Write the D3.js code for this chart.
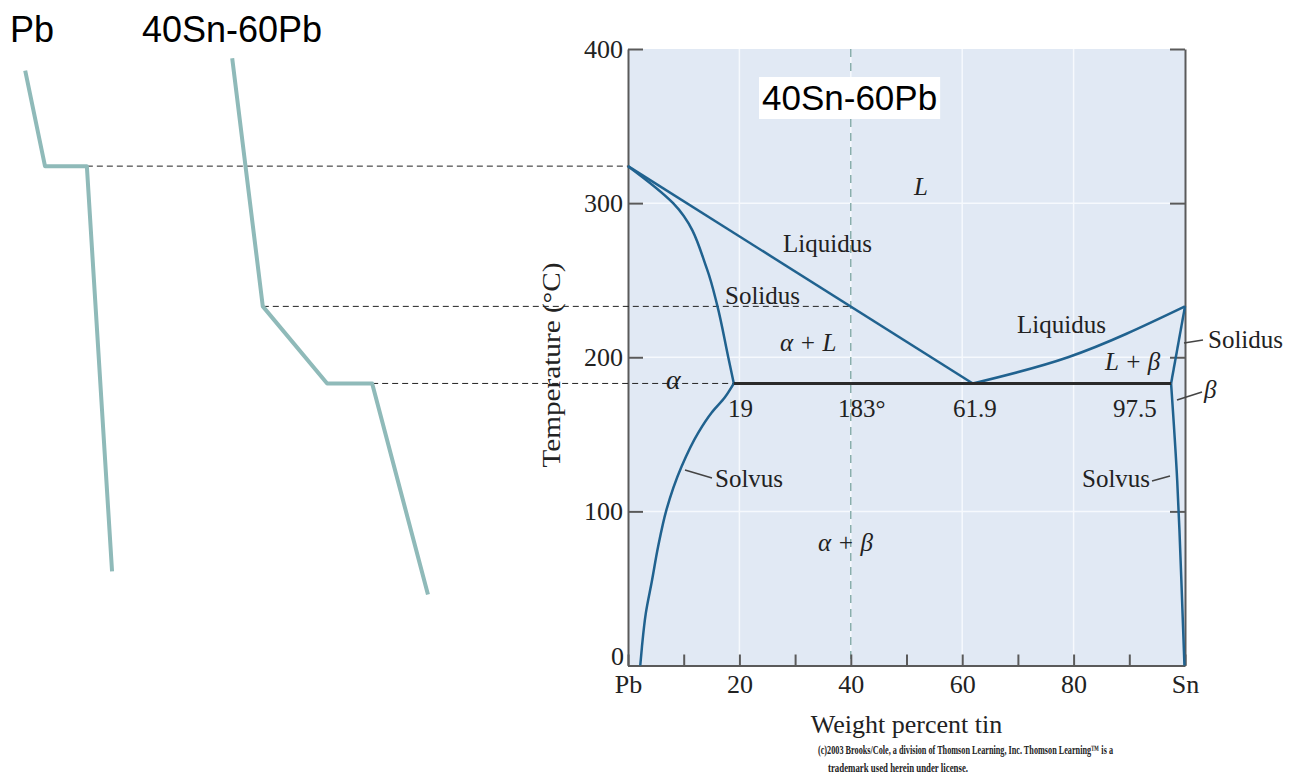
<!DOCTYPE html>
<html>
<head>
<meta charset="utf-8">
<script src="https://cdn.jsdelivr.net/npm/d3@7"></script>
<style>
  body { margin: 0; background: #fff; }
  svg { display: block; }
</style>
</head>
<body>
<svg id="chart" width="1301" height="775"></svg>
<script>
// ---- data ----
const tempTicks = [0, 100, 200, 300, 400];
const compTicks = [0, 10, 20, 30, 40, 50, 60, 70, 80, 90, 100];
const compLabels = { 0: "Pb", 20: "20", 40: "40", 60: "60", 80: "80", 100: "Sn" };
const gridComp = [20, 40, 60, 80];
const gridTemp = [100, 200, 300];

// phase boundaries [wt% Sn, temperature]
const liquidusLeft = [[0, 324], [61.9, 183]];
const liquidusRight = [[61.9, 183], [79, 200], [100, 233]];
const solidusLeft = [[0, 324], [8.1, 300], [14.2, 257], [16, 234], [18, 200], [19, 183]];
const solvusLeft = [[19, 183], [17.4, 174], [15, 164], [12.6, 151], [9.6, 129], [6.9, 101],
                    [5.4, 77], [4.3, 55], [3.2, 34], [2.5, 12], [2.2, 0]];
const solidusRight = [[97.5, 183], [100, 233]];
const solvusRight = [[97.5, 183], [98.6, 120], [99, 88], [99.5, 40], [99.9, 0]];
const eutectic = [[19, 183], [97.5, 183]];
const alloyComp = 40;

// cooling curves [time, temperature]
const coolingPb = [[5.6, 386], [10, 324], [19.3, 324], [24.9, 61]];
const coolingAlloy = [[51.6, 394], [58.4, 233], [72.7, 183], [82.7, 183], [95.1, 46]];

// guide lines: from time on cooling curve to composition on diagram
const guides = [
  { time: 19.3, comp: 0, temp: 324 },
  { time: 58.4, comp: 40, temp: 233 },
  { time: 82.7, comp: 19, temp: 183 }
];

const svg = d3.select("#chart");
const serif = "'Liberation Serif', 'Times New Roman', serif";
const sans = "'Liberation Sans', Arial, sans-serif";

const x = d3.scaleLinear().domain([0, 100]).range([628, 1185]);
const y = d3.scaleLinear().domain([0, 400]).range([665.5, 49]);
const t = d3.scaleLinear().domain([0, 100]).range([0, 450]);

const line = d3.line().x(d => x(d[0])).y(d => y(d[1]));
const curveY = d3.line().x(d => x(d[0])).y(d => y(d[1])).curve(d3.curveMonotoneY);
const curveX = d3.line().x(d => x(d[0])).y(d => y(d[1])).curve(d3.curveMonotoneX);
const coolLine = d3.line().x(d => t(d[0])).y(d => y(d[1]));

// plot background
svg.append("rect")
    .attr("x", x(0)).attr("y", y(400))
    .attr("width", x(100) - x(0)).attr("height", y(0) - y(400))
    .attr("fill", "#e1e9f4");

// gridlines
svg.selectAll(".vgrid").data(gridComp).join("line")
    .attr("x1", d => x(d)).attr("x2", d => x(d))
    .attr("y1", y(400)).attr("y2", y(0))
    .attr("stroke", "#f6f9fd").attr("stroke-width", 1.5);
svg.selectAll(".hgrid").data(gridTemp).join("line")
    .attr("x1", x(0)).attr("x2", x(100))
    .attr("y1", d => y(d)).attr("y2", d => y(d))
    .attr("stroke", "#f6f9fd").attr("stroke-width", 1.5);

// alloy composition line
svg.append("line")
    .attr("x1", x(alloyComp)).attr("x2", x(alloyComp))
    .attr("y1", y(400)).attr("y2", y(0))
    .attr("stroke", "#6f9c98").attr("stroke-width", 1.2)
    .attr("stroke-dasharray", "8,6");

// axes
const axisColor = "#5a5a5a";
const yLeft = svg.append("g").attr("transform", `translate(${x(0)},0)`)
    .call(d3.axisLeft(y).tickValues(tempTicks).tickSizeInner(-15).tickSizeOuter(0).tickPadding(5));
const yRight = svg.append("g").attr("transform", `translate(${x(100)},0)`)
    .call(d3.axisRight(y).tickValues(tempTicks).tickSizeInner(-15).tickSizeOuter(0).tickFormat(""));
const xAxis = svg.append("g").attr("transform", `translate(0,${y(0)})`)
    .call(d3.axisBottom(x).tickValues(compTicks).tickSizeInner(-11).tickSizeOuter(0).tickPadding(9)
        .tickFormat(d => compLabels[d] || ""));

[yLeft, yRight, xAxis].forEach(g => {
    g.select(".domain").attr("stroke", axisColor).attr("stroke-width", 2);
    g.selectAll(".tick line").attr("stroke", axisColor).attr("stroke-width", 2);
    g.selectAll(".tick text").attr("fill", "#222")
        .style("font-family", serif).style("font-size", "26px");
});
// "0" sits just above the Pb label
yLeft.select(".tick text").attr("dy", "-0.05em").attr("x", -4);

// axis titles
svg.append("text")
    .attr("transform", "translate(560,365) rotate(-90)")
    .attr("text-anchor", "middle")
    .attr("textLength", 205).attr("lengthAdjust", "spacingAndGlyphs")
    .style("font-family", serif).style("font-size", "26px").attr("fill", "#222")
    .text("Temperature (°C)");
svg.append("text")
    .attr("x", (x(0) + x(100)) / 2).attr("y", 733)
    .attr("text-anchor", "middle")
    .style("font-family", serif).style("font-size", "26px").attr("fill", "#222")
    .text("Weight percent tin");

// credit lines
svg.append("text")
    .attr("x", 818).attr("y", 754)
    .attr("textLength", 295).attr("lengthAdjust", "spacingAndGlyphs")
    .style("font-family", serif).style("font-size", "13px").style("font-weight", "bold").attr("fill", "#222")
    .text("(c)2003 Brooks/Cole, a division of Thomson Learning, Inc.  Thomson Learning\u2122 is a");
svg.append("text")
    .attr("x", 828).attr("y", 772)
    .attr("textLength", 140).attr("lengthAdjust", "spacingAndGlyphs")
    .style("font-family", serif).style("font-size", "13px").style("font-weight", "bold").attr("fill", "#222")
    .text("trademark used herein under license.");

// guide lines linking cooling curves to the diagram
svg.selectAll(".guide").data(guides).join("line")
    .attr("x1", d => t(d.time)).attr("x2", d => x(d.comp))
    .attr("y1", d => y(d.temp)).attr("y2", d => y(d.temp))
    .attr("stroke", "#222").attr("stroke-width", 1)
    .attr("stroke-dasharray", "6,4");

// phase boundaries
const phaseColor = "#20628f";
[liquidusLeft, solidusRight].forEach(d => {
    svg.append("path").attr("d", line(d))
        .attr("fill", "none").attr("stroke", phaseColor).attr("stroke-width", 2.5);
});
svg.append("path").attr("d", curveX(liquidusRight))
    .attr("fill", "none").attr("stroke", phaseColor).attr("stroke-width", 2.5);
[solidusLeft, solvusLeft, solvusRight].forEach(d => {
    svg.append("path").attr("d", curveY(d))
        .attr("fill", "none").attr("stroke", phaseColor).attr("stroke-width", 2.5);
});
svg.append("path").attr("d", line(eutectic))
    .attr("fill", "none").attr("stroke", "#2a2a2a").attr("stroke-width", 3);

// cooling curves
[coolingPb, coolingAlloy].forEach(d => {
    svg.append("path").attr("d", coolLine(d))
        .attr("fill", "none").attr("stroke", "#8fbab9").attr("stroke-width", 4)
        .attr("stroke-linejoin", "round");
});

// titles of the cooling curves
svg.append("text").attr("x", 10).attr("y", 42)
    .style("font-family", sans).style("font-size", "36px").text("Pb");
svg.append("text").attr("x", 142).attr("y", 42)
    .style("font-family", sans).style("font-size", "36px").text("40Sn-60Pb");

// boxed alloy label
const boxG = svg.append("g");
const boxRect = boxG.append("rect").attr("fill", "#fff");
const boxLabel = boxG.append("text").attr("x", 762).attr("y", 110)
    .style("font-family", sans).style("font-size", "35px").text("40Sn-60Pb");
const bb = boxLabel.node().getBBox();
boxRect.attr("x", bb.x - 3).attr("y", 77)
    .attr("width", bb.width + 6).attr("height", 42);

// region and point labels
const labels = [
    { text: "L", x: 914, y: 195, italic: true },
    { text: "Liquidus", x: 783, y: 252 },
    { text: "Solidus", x: 725, y: 304 },
    { text: "\u03b1 + L", x: 780, y: 351, italic: true },
    { text: "\u03b1", x: 666, y: 389, italic: true, size: 28 },
    { text: "19", x: 728, y: 417 },
    { text: "183\u00b0", x: 838, y: 417 },
    { text: "61.9", x: 953, y: 417 },
    { text: "97.5", x: 1113, y: 417 },
    { text: "Liquidus", x: 1017, y: 333 },
    { text: "L + \u03b2", x: 1105, y: 370, italic: true },
    { text: "Solidus", x: 1208, y: 348 },
    { text: "\u03b2", x: 1204, y: 398, italic: true },
    { text: "Solvus", x: 1082, y: 487 },
    { text: "Solvus", x: 715, y: 487 },
    { text: "\u03b1 + \u03b2", x: 818, y: 551, italic: true }
];
svg.selectAll(".lbl").data(labels).join("text")
    .attr("class", "lbl")
    .attr("x", d => d.x).attr("y", d => d.y)
    .style("font-family", serif).style("font-size", d => (d.size || 25) + "px")
    .style("font-style", d => d.italic ? "italic" : "normal")
    .attr("fill", "#222")
    .text(d => d.text);

// leader lines
const leaders = [[685, 470, 712, 478], [1152, 481, 1170, 476], [1184, 343, 1203, 340], [1177, 400, 1202, 392]];
svg.selectAll(".leader").data(leaders).join("line")
    .attr("class", "leader")
    .attr("x1", d => d[0]).attr("y1", d => d[1]).attr("x2", d => d[2]).attr("y2", d => d[3])
    .attr("stroke", "#444").attr("stroke-width", 1.5);
</script>
</body>
</html>
